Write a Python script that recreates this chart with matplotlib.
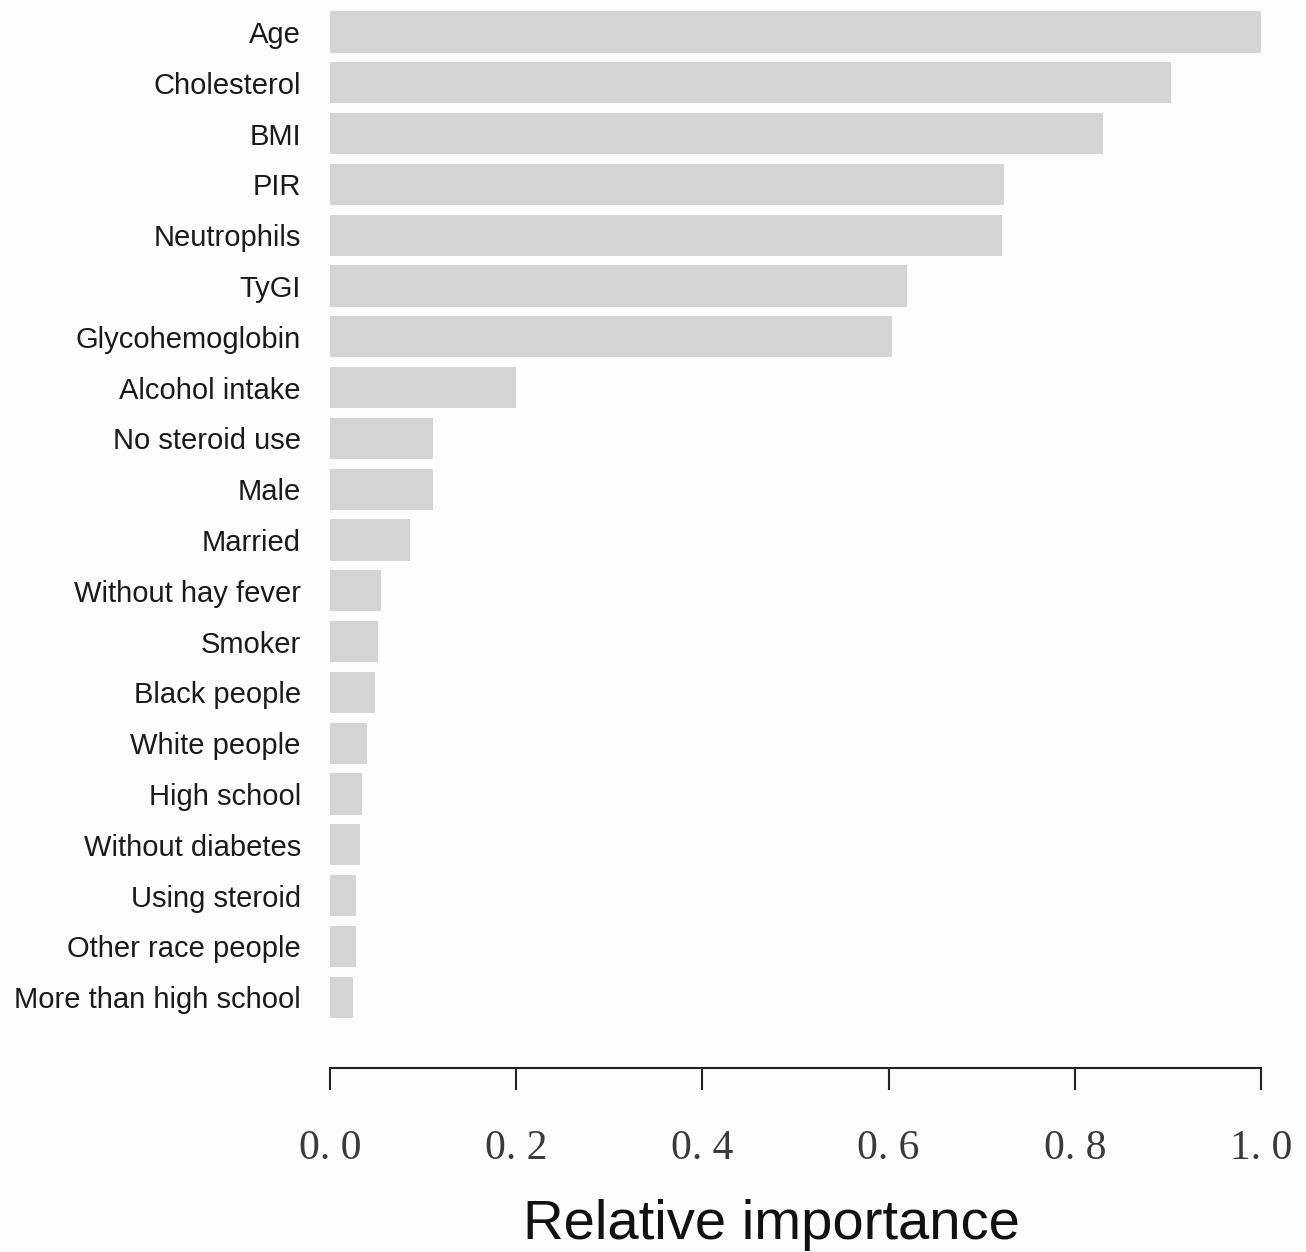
import numpy as np
import matplotlib.pyplot as plt

features = ["Age", "Cholesterol", "BMI", "PIR", "Neutrophils", "TyGI",
            "Glycohemoglobin", "Alcohol intake", "No steroid use", "Male",
            "Married", "Without hay fever", "Smoker", "Black people",
            "White people", "High school", "Without diabetes", "Using steroid",
            "Other race people", "More than high school"]
importance = [1.0, 0.903, 0.830, 0.724, 0.722, 0.620, 0.604, 0.200, 0.111,
              0.111, 0.086, 0.055, 0.052, 0.048, 0.040, 0.034, 0.032, 0.028,
              0.028, 0.025]
xticks = [0.0, 0.2, 0.4, 0.6, 0.8, 1.0]
xtick_labels = ["0. 0", "0. 2", "0. 4", "0. 6", "0. 8", "1. 0"]

bg = "#fdfdfd"
fig = plt.figure(figsize=(13.06, 12.52), dpi=100, facecolor=bg)
ax = fig.add_axes([330 / 1306, 1 - 1068 / 1252, 931 / 1306, 1068 / 1252])
ax.set_facecolor(bg)

y = np.arange(len(features))
ax.barh(y, importance, height=0.81, color="#d4d4d4", edgecolor="none")

ax.set_xlim(0, 1)
ax.set_ylim((1068 - 32) / 50.8, -32 / 50.8)

ax.set_yticks(y)
ax.set_yticklabels(features, fontsize=21, family="Liberation Sans", color="#1a1a1a")
ax.tick_params(axis="y", length=0, pad=21)

ax.set_xticks(xticks)
ax.set_xticklabels(xtick_labels, fontsize=30, family="Liberation Serif", color="#3a3a3a")
ax.tick_params(axis="x", length=16, width=1.5, pad=28, color="#222222")

for s in ["top", "right", "left"]:
    ax.spines[s].set_visible(False)
ax.spines["bottom"].set_bounds(0, 1)
ax.spines["bottom"].set_linewidth(1.5)
ax.spines["bottom"].set_color("#222222")

# x label sits a little left of the axis centre in the original
fig.text(771 / 1306, 1 - 1225 / 1252, "Relative importance", fontsize=40.5,
         family="Liberation Sans", color="#111111", ha="center", va="center")

fig.savefig("out.png", dpi=100, facecolor=bg)
